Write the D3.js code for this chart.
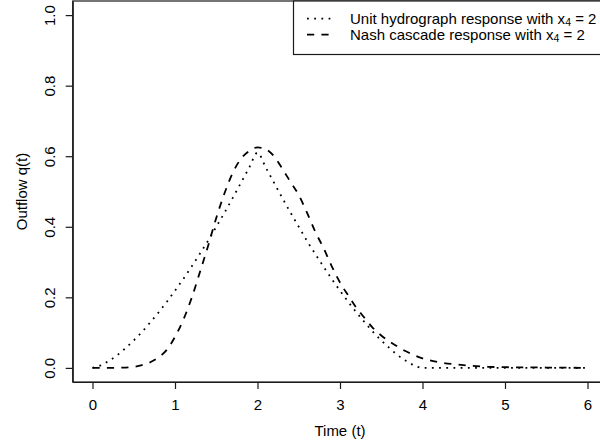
<!DOCTYPE html>
<html>
<head>
<meta charset="utf-8">
<script src="https://cdn.jsdelivr.net/npm/d3@7"></script>
<style>
  html, body { margin: 0; padding: 0; background: #fff; }
  svg { display: block; }
  text { font-family: "Liberation Sans", Arial, Helvetica, sans-serif; fill: #000; }
</style>
</head>
<body>
<svg id="chart" width="600" height="445"></svg>
<script>
// ---- data ----
const timeUH = [0,0.1,0.2,0.3,0.4,0.5,0.6,0.7,0.8,0.9,1.0,1.1,1.2,1.3,1.4,1.5,1.6,1.7,1.8,1.9,2.0,
                2.1,2.2,2.3,2.4,2.5,2.6,2.7,2.8,2.9,3.0,3.1,3.2,3.3,3.4,3.5,3.6,3.7,3.8,3.9,4.0,4.5,5.0,5.5,6.0];
const unitHydrograph = [0,0.007,0.02,0.036,0.056,0.078,0.102,0.129,0.157,0.187,0.219,0.252,0.287,0.323,0.36,0.4,0.44,0.482,0.525,0.568,0.61,
                0.568,0.525,0.482,0.44,0.4,0.36,0.323,0.287,0.252,0.219,0.187,0.157,0.129,0.102,0.078,0.056,0.036,0.02,0.007,0,0,0,0,0];
const timeNash = [0,0.1,0.2,0.3,0.4,0.5,0.6,0.7,0.8,0.9,1.0,1.1,1.2,1.3,1.4,1.5,1.6,1.7,1.8,1.9,2.0,
                2.1,2.2,2.3,2.4,2.5,2.6,2.7,2.8,2.9,3.0,3.1,3.2,3.3,3.4,3.5,3.6,3.7,3.8,3.9,4.0,4.2,4.4,4.6,4.8,5.0,5.5,6.0];
const nashCascade = [0,0,0,0.0005,0.001,0.003,0.008,0.016,0.03,0.051,0.088,0.136,0.197,0.27,0.345,0.425,0.495,0.553,0.593,0.615,0.625,
                0.62,0.6,0.565,0.527,0.49,0.44,0.386,0.34,0.288,0.242,0.205,0.17,0.141,0.113,0.092,0.075,0.06,0.047,0.036,0.027,0.016,0.01,0.006,0.003,0.002,0.001,0];
const xTicks = [0,1,2,3,4,5,6];
const yTicks = [0,0.2,0.4,0.6,0.8,1.0];
const legendLabels = ["Unit hydrograph response with x", "Nash cascade response with x"];
const legendSub = "4";
const legendTail = " = 2";
const xTitle = "Time (t)";
const yTitle = "Outflow q(t)";

// ---- layout ----
const svg = d3.select("#chart");
const L = 72.7, R = 607.3, T = 1, B = 382;
const x = d3.scaleLinear().domain([-0.24, 6.24]).range([L, R]);
const y = d3.scaleLinear().domain([-0.04, 1.04]).range([B, T]);
const lw = 1.8;
const fs = 15;
const ink = "#1a1a1a";

// curves
const line = d3.line().x(d => x(d[0])).y(d => y(d[1])).curve(d3.curveMonotoneX);
svg.append("path")
  .datum(timeUH.map((t, i) => [t, unitHydrograph[i]]))
  .attr("d", line).attr("fill", "none").attr("stroke", "#000")
  .attr("stroke-width", lw).attr("stroke-dasharray", "1.8,5.4");
svg.append("path")
  .datum(timeNash.map((t, i) => [t, nashCascade[i]]))
  .attr("d", line).attr("fill", "none").attr("stroke", "#000")
  .attr("stroke-width", lw).attr("stroke-dasharray", "7.2,7.2");

// box
svg.append("rect").attr("x", L).attr("y", T).attr("width", R - L).attr("height", B - T)
  .attr("fill", "none").attr("stroke", ink).attr("stroke-width", 1.2);

// x axis
const xAxis = svg.append("g").attr("transform", `translate(0,${B})`)
  .call(d3.axisBottom(x).tickValues(xTicks).tickSize(7).tickSizeOuter(0).tickFormat(d3.format("d")));
xAxis.select(".domain").attr("stroke", ink).attr("stroke-width", 1.2);
xAxis.selectAll(".tick line").attr("stroke", ink).attr("stroke-width", 1.2);
xAxis.selectAll("text").attr("font-size", fs).attr("fill", "#000")
  .attr("font-family", "'Liberation Sans', Arial, sans-serif")
  .attr("y", 28.4).attr("dy", 0);

// y axis
const yAxis = svg.append("g").attr("transform", `translate(${L},0)`)
  .call(d3.axisLeft(y).tickValues(yTicks).tickSize(7).tickSizeOuter(0).tickFormat(d3.format(".1f")));
yAxis.select(".domain").attr("stroke", ink).attr("stroke-width", 1.2);
yAxis.selectAll(".tick line").attr("stroke", ink).attr("stroke-width", 1.2);
yAxis.selectAll("text")
  .attr("font-size", fs).attr("fill", "#000")
  .attr("font-family", "'Liberation Sans', Arial, sans-serif")
  .attr("x", 0).attr("y", 0).attr("dy", 0)
  .attr("text-anchor", "middle")
  .attr("transform", `translate(${55.4 - L},0) rotate(-90)`);

// axis titles
svg.append("text").attr("x", (L + R) / 2).attr("y", 436.4)
  .attr("text-anchor", "middle").attr("font-size", fs).text(xTitle);
svg.append("text").attr("transform", `translate(27,${(T + B) / 2}) rotate(-90)`)
  .attr("text-anchor", "middle").attr("font-size", fs).text(yTitle);

// legend
const lg = svg.append("g");
lg.append("rect").attr("x", 293.5).attr("y", T).attr("width", R - 293.5).attr("height", 53.5)
  .attr("fill", "#fff").attr("stroke", ink).attr("stroke-width", 1.2);
const rows = [18.7, 34.7];
const dashes = ["1.8,5.4", "7.2,7.2"];
rows.forEach((ry, i) => {
  lg.append("line").attr("x1", 307).attr("x2", 334).attr("y1", ry).attr("y2", ry)
    .attr("stroke", "#000").attr("stroke-width", lw).attr("stroke-dasharray", dashes[i]);
  const t = lg.append("text").attr("x", 350).attr("y", ry + 5.3).attr("font-size", fs);
  t.append("tspan").text(legendLabels[i]);
  t.append("tspan").attr("font-size", fs * 0.7).attr("dy", 2).text(legendSub);
  t.append("tspan").attr("dy", -2).text(legendTail);
});
</script>
</body>
</html>
